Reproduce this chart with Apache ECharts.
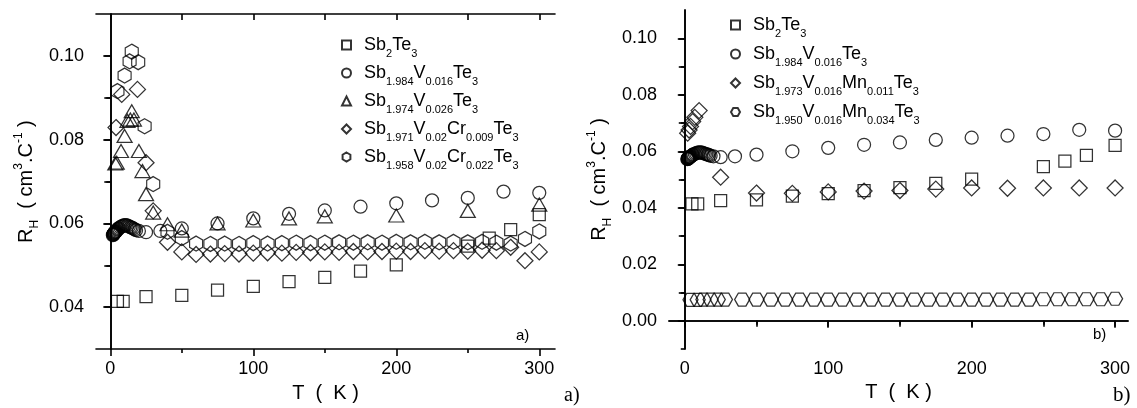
<!DOCTYPE html>
<html>
<head>
<meta charset="utf-8">
<script src="https://cdn.jsdelivr.net/npm/echarts@6/dist/echarts.min.js"></script>
<style>
html,body{margin:0;padding:0;background:#fff;}
#c{width:1137px;height:408px;}
</style>
</head>
<body>
<div id="c"></div>
<script>
// ---------- DATA ----------
// Panel a)
const sqT = [5, 9, 25, 50, 75, 100, 125, 150, 175, 200, 250, 265, 280, 300];
const sqR = [0.0414, 0.0414, 0.0425, 0.0428, 0.0441, 0.0450, 0.0461, 0.0471, 0.0486, 0.0501, 0.0546, 0.0565, 0.0585, 0.0621];

const v16T = [1.8, 2.0, 2.2, 2.4, 2.6, 2.8, 3.0, 3.3, 3.6, 4.0, 4.5, 5.0, 5.5, 6, 7, 8, 9, 10, 11, 12, 13, 14, 15, 16, 17, 18, 20, 25, 35, 50, 75, 100, 125, 150, 175, 200, 225, 250, 275, 300];
const v16R = [0.0572, 0.0573, 0.0574, 0.0575, 0.0576, 0.0577, 0.0578, 0.0579, 0.0580, 0.0581, 0.0583, 0.0585, 0.0587, 0.0589, 0.0591, 0.0593, 0.0595, 0.0596, 0.0596, 0.0595, 0.0593, 0.0591, 0.0590, 0.0588, 0.0586, 0.0584, 0.0582, 0.0579, 0.0582, 0.0588, 0.0600, 0.0612, 0.0623, 0.0631, 0.0640, 0.0648, 0.0655, 0.0661, 0.0676, 0.0673];

const v26T = [3.5, 4.5, 7.5, 10, 12, 14, 15, 16.5, 20, 22.5, 25, 30, 40, 50, 75, 100, 125, 150, 200, 250, 300];
const v26R = [0.0743, 0.0745, 0.0773, 0.0809, 0.0845, 0.0848, 0.0868, 0.0848, 0.0773, 0.0725, 0.0670, 0.0626, 0.0598, 0.0583, 0.0600, 0.0607, 0.0612, 0.0617, 0.0619, 0.0630, 0.0645];

const cr9T = [4, 8, 19, 25, 30, 40, 50, 60, 70, 80, 90, 100, 110, 120, 130, 140, 150, 160, 170, 180, 190, 200, 210, 220, 230, 240, 250, 260, 270, 280, 290, 300];
const cr9R = [0.0829, 0.0908, 0.0920, 0.0745, 0.0630, 0.0555, 0.0532, 0.0526, 0.0527, 0.0528, 0.0527, 0.0529, 0.0530, 0.0529, 0.0531, 0.0530, 0.0532, 0.0531, 0.0533, 0.0532, 0.0533, 0.0534, 0.0533, 0.0535, 0.0534, 0.0535, 0.0534, 0.0536, 0.0535, 0.0543, 0.0511, 0.0532];

const cr22T = [5, 10, 13.5, 15, 19.5, 24, 30, 40, 50, 60, 70, 80, 90, 100, 110, 120, 130, 140, 150, 160, 170, 180, 190, 200, 210, 220, 230, 240, 250, 260, 270, 280, 290, 300];
const cr22R = [0.0916, 0.0953, 0.0987, 0.1010, 0.0985, 0.0832, 0.0694, 0.0580, 0.0565, 0.0552, 0.0551, 0.0552, 0.0551, 0.0553, 0.0552, 0.0553, 0.0554, 0.0553, 0.0554, 0.0555, 0.0554, 0.0555, 0.0554, 0.0556, 0.0555, 0.0556, 0.0555, 0.0556, 0.0555, 0.0556, 0.0554, 0.0552, 0.0563, 0.0581];

// Panel b)
const mn11T = [2, 3, 4, 5.5, 7, 10, 25, 50, 75, 100, 125, 150, 175, 200, 225, 250, 275, 300];
const mn11R = [0.0664, 0.0675, 0.0688, 0.0705, 0.0720, 0.0744, 0.0508, 0.0452, 0.0451, 0.0456, 0.0459, 0.0461, 0.0466, 0.0470, 0.0469, 0.0470, 0.0470, 0.0470];

const mn34T = [4, 9, 13, 18, 23, 28, 40, 50, 60, 70, 80, 90, 100, 110, 120, 130, 140, 150, 160, 170, 180, 190, 200, 210, 220, 230, 240, 250, 260, 270, 280, 290, 300];
const mn34R = [0.0074, 0.0074, 0.0075, 0.0075, 0.0075, 0.0075, 0.0075, 0.0075, 0.0075, 0.0075, 0.0075, 0.0075, 0.0075, 0.0075, 0.0075, 0.0075, 0.0075, 0.0075, 0.0075, 0.0075, 0.0075, 0.0075, 0.0075, 0.0075, 0.0075, 0.0075, 0.0075, 0.0076, 0.0076, 0.0076, 0.0076, 0.0076, 0.0078];

// Tick values
const xMajor = [0, 100, 200, 300];
const xMinor = [50, 150, 250];
const xTop = [0, 50, 100, 150, 200, 250, 300];
const yAMajor = [0.04, 0.06, 0.08, 0.10];
const yAMinor = [0.05, 0.07, 0.09];
const yAAll = [0.04, 0.05, 0.06, 0.07, 0.08, 0.09, 0.10];
const yBMajor = [0.00, 0.02, 0.04, 0.06, 0.08, 0.10];
const yBMinor = [-0.01, 0.01, 0.03, 0.05, 0.07, 0.09];
const yBAll = [0.00, 0.01, 0.02, 0.03, 0.04, 0.05, 0.06, 0.07, 0.08, 0.09, 0.10];

// Series names & legend labels (rich text)
const names = {
  sq: 'Sb2Te3',
  v16: 'Sb1.984V0.016Te3',
  v26: 'Sb1.974V0.026Te3',
  cr9: 'Sb1.971V0.02Cr0.009Te3',
  cr22: 'Sb1.958V0.02Cr0.022Te3',
  mn11: 'Sb1.973V0.016Mn0.011Te3',
  mn34: 'Sb1.950V0.016Mn0.034Te3'
};
const labels = {
  'Sb2Te3': '{g| }{n|Sb}{s|2}{n|Te}{s|3}',
  'Sb1.984V0.016Te3': '{g| }{n|Sb}{s|1.984}{n|V}{s|0.016}{n|Te}{s|3}',
  'Sb1.974V0.026Te3': '{g| }{n|Sb}{s|1.974}{n|V}{s|0.026}{n|Te}{s|3}',
  'Sb1.971V0.02Cr0.009Te3': '{g| }{n|Sb}{s|1.971}{n|V}{s|0.02}{n|Cr}{s|0.009}{n|Te}{s|3}',
  'Sb1.958V0.02Cr0.022Te3': '{g| }{n|Sb}{s|1.958}{n|V}{s|0.02}{n|Cr}{s|0.022}{n|Te}{s|3}',
  'Sb1.973V0.016Mn0.011Te3': '{g| }{n|Sb}{s|1.973}{n|V}{s|0.016}{n|Mn}{s|0.011}{n|Te}{s|3}',
  'Sb1.950V0.016Mn0.034Te3': '{g| }{n|Sb}{s|1.950}{n|V}{s|0.016}{n|Mn}{s|0.034}{n|Te}{s|3}'
};
const yTitle = '{n|R}{s|H}{n|  ( cm}{p|3}{n|.C}{p|-1}{n| )}';
const xTitle = 'T  (  K )';

// ---------- STYLE ----------
const FONT = "'Liberation Sans', Arial, Helvetica, sans-serif";
const hexUp = 'path://M0,-10L8.66,-5L8.66,5L0,10L-8.66,5L-8.66,-5Z';
const hexFlat = 'path://M-10,0L-5,-8.66L5,-8.66L10,0L5,8.66L-5,8.66Z';
const mk = {color: 'rgba(0,0,0,0)', borderColor: '#000', borderWidth: 1.25};
const richLegend = {
  g: {width: 8, fontSize: 18, lineHeight: 28},
  n: {fontSize: 18, fontFamily: FONT, color: '#000', lineHeight: 28, verticalAlign: 'middle'},
  s: {fontSize: 11, fontFamily: FONT, color: '#000', lineHeight: 11, verticalAlign: 'bottom'}
};
const richY = {
  n: {fontSize: 20, fontFamily: FONT, color: '#000', lineHeight: 30, verticalAlign: 'middle'},
  s: {fontSize: 12, fontFamily: FONT, color: '#000', lineHeight: 12, verticalAlign: 'bottom'},
  p: {fontSize: 12, fontFamily: FONT, color: '#000', lineHeight: 12, verticalAlign: 'top', padding: [2, 0, 0, 0]}
};
const lineStyle = {color: '#000', width: 1.6};

function zip(a, b) { return a.map((v, i) => [v, b[i]]); }

function axesForPanel(gridIndex, xmin, xmax, ymin, ymax, yMajor, yMinor, yAll) {
  const xs = [
    {gridIndex, type: 'value', min: xmin, max: xmax, position: 'bottom',
     axisLine: {show: true, lineStyle}, splitLine: {show: false},
     axisTick: {show: true, inside: false, length: 7, lineStyle, customValues: xMajor},
     axisLabel: {show: true, customValues: xMajor, fontSize: 18, fontFamily: FONT, color: '#000', margin: 11},
     name: xTitle, nameLocation: 'middle', nameGap: 28,
     nameTextStyle: {fontSize: 20, fontFamily: FONT, color: '#000'}},
    {gridIndex, type: 'value', min: xmin, max: xmax, position: 'bottom',
     axisLine: {show: false}, splitLine: {show: false},
     axisTick: {show: true, inside: false, length: 4, lineStyle, customValues: xMinor},
     axisLabel: {show: false}},
    {gridIndex, type: 'value', min: xmin, max: xmax, position: 'top',
     axisLine: {show: true, lineStyle}, splitLine: {show: false},
     axisTick: {show: true, inside: true, length: 6, lineStyle, customValues: xTop},
     axisLabel: {show: false}}
  ];
  const ys = [
    {gridIndex, type: 'value', min: ymin, max: ymax, position: 'left',
     axisLine: {show: true, lineStyle}, splitLine: {show: false},
     axisTick: {show: true, inside: false, length: 7, lineStyle, customValues: yMajor},
     axisLabel: {show: true, customValues: yMajor, fontSize: 18, fontFamily: FONT, color: '#000', margin: 12,
       formatter: v => v.toFixed(2)},
     name: yTitle, nameLocation: 'middle', nameGap: 55, nameRotate: 90,
     nameTextStyle: {rich: richY}},
    {gridIndex, type: 'value', min: ymin, max: ymax, position: 'left',
     axisLine: {show: false}, splitLine: {show: false},
     axisTick: {show: true, inside: false, length: 4, lineStyle, customValues: yMinor},
     axisLabel: {show: false}},
    {gridIndex, type: 'value', min: ymin, max: ymax, position: 'right',
     axisLine: {show: true, lineStyle}, splitLine: {show: false},
     axisTick: {show: true, inside: true, length: 6, lineStyle, customValues: yAll},
     axisLabel: {show: false}}
  ];
  return {xs, ys};
}

const A = axesForPanel(0, -10, 311, 0.03, 0.11, yAMajor, yAMinor, yAAll);
const B = axesForPanel(1, -11, 309, -0.01, 0.11, yBMajor, yBMinor, yBAll);

function sc(name, sym, size, t, r, xi, yi) {
  return {type: 'scatter', name, symbol: sym, symbolSize: size, data: zip(t, r),
    xAxisIndex: xi, yAxisIndex: yi, itemStyle: mk, emphasis: {disabled: true}, silent: true};
}

const legendBase = {
  orient: 'vertical', itemWidth: 9, itemHeight: 9, padding: 0, selectedMode: false,
  formatter: n => labels[n],
  textStyle: {rich: richLegend}
};

// Legend labels for panel b names with trailing space
labels[names.sq + ' '] = labels[names.sq];
labels[names.v16 + ' '] = labels[names.v16];

const option = {
  animation: false,
  backgroundColor: '#fff',
  grid: [
    {left: 96, top: 14, width: 459, height: 337},
    {left: 669, top: 10, width: 459, height: 339}
  ],
  xAxis: A.xs.concat(B.xs),
  yAxis: A.ys.concat(B.ys),
  legend: [
    Object.assign({}, legendBase, {left: 341, top: 36, itemGap: 5,
      data: [names.sq, names.v16, names.v26, names.cr9, names.cr22]}),
    Object.assign({}, legendBase, {left: 730, top: 16, itemGap: 6,
      data: [names.sq + ' ', names.v16 + ' ', names.mn11, names.mn34]})
  ],
  series: [
    sc(names.sq, 'rect', [12, 12], sqT, sqR, 0, 0),
    sc(names.v16, 'circle', 13, v16T, v16R, 0, 0),
    sc(names.v26, 'triangle', [15, 13], v26T, v26R, 0, 0),
    sc(names.cr9, 'diamond', [16, 16], cr9T, cr9R, 0, 0),
    sc(names.cr22, hexUp, [13, 15], cr22T, cr22R, 0, 0),
    sc(names.sq + ' ', 'rect', [12, 12], sqT, sqR, 3, 3),
    sc(names.v16 + ' ', 'circle', 13, v16T, v16R, 3, 3),
    sc(names.mn11, 'diamond', [16, 16], mn11T, mn11R, 3, 3),
    sc(names.mn34, hexFlat, [15, 13], mn34T, mn34R, 3, 3)
  ],
  graphic: [
    {type: 'text', left: 516, top: 328, style: {text: 'a)', font: "15px " + FONT, fill: '#000'}},
    {type: 'text', left: 1093, top: 327, style: {text: 'b)', font: "15px " + FONT, fill: '#000'}},
    {type: 'text', left: 564, top: 386, style: {text: 'a)', font: "20px 'Liberation Serif', 'Times New Roman', serif", fill: '#000'}},
    {type: 'text', left: 1113, top: 385, style: {text: 'b)', font: "21px 'Liberation Serif', 'Times New Roman', serif", fill: '#000'}}
  ]
};

const chart = echarts.init(document.getElementById('c'), null, {renderer: 'canvas'});
chart.setOption(option);
</script>
</body>
</html>
